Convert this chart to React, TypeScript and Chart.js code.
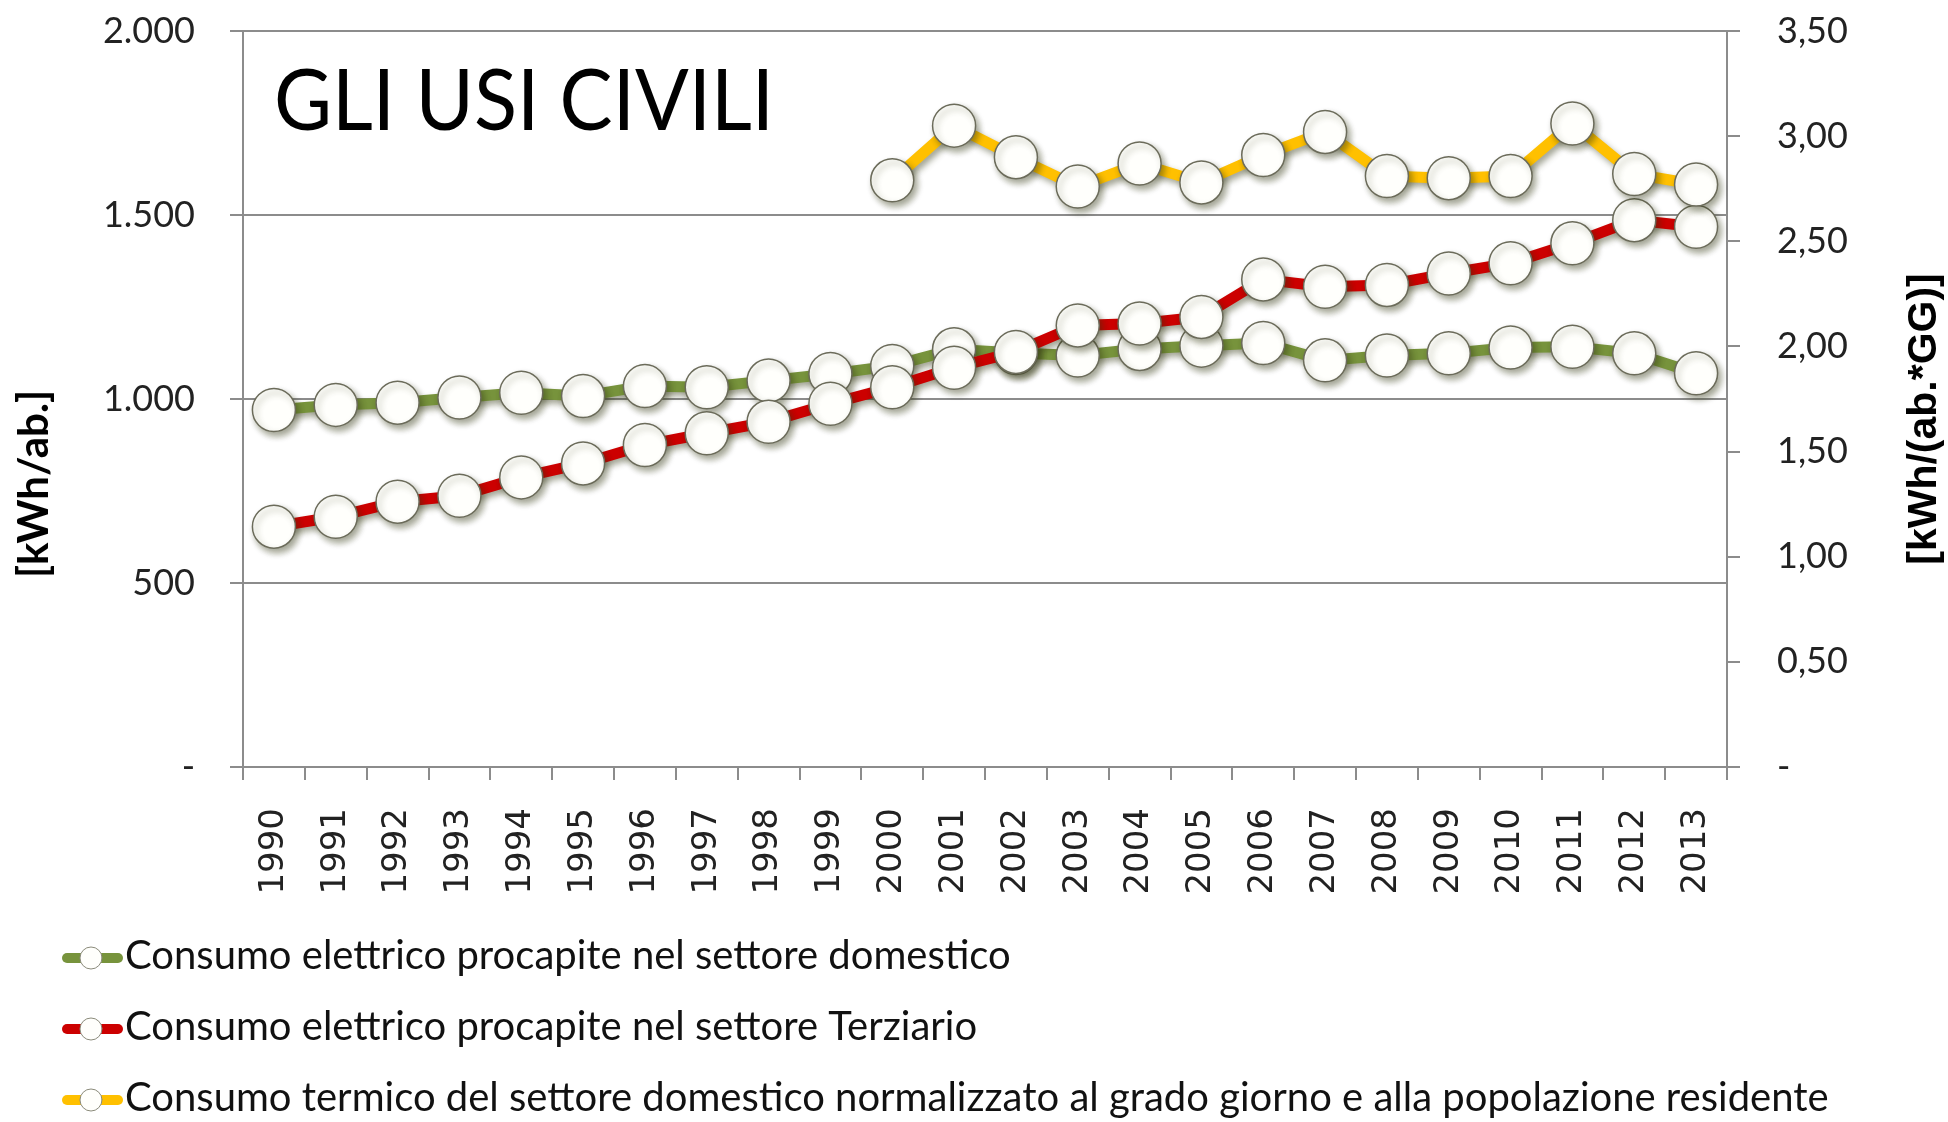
import React, { useEffect, useRef } from 'react';
import { Chart, registerables } from 'chart.js';

Chart.register(...registerables);

const years = ['1990', '1991', '1992', '1993', '1994', '1995', '1996', '1997', '1998', '1999', '2000', '2001', '2002', '2003', '2004', '2005', '2006', '2007', '2008', '2009', '2010', '2011', '2012', '2013'];

const domestico = [970, 984, 990, 1004, 1017, 1008, 1035, 1032, 1050, 1068, 1090, 1135, 1125, 1118, 1136, 1145, 1152, 1105, 1118, 1124, 1140, 1142, 1124, 1070];

const terziario = [653, 680, 721, 737, 787, 825, 875, 907, 938, 987, 1032, 1085, 1128, 1200, 1205, 1223, 1325, 1305, 1310, 1341, 1369, 1423, 1486, 1468];

const termico = [null, null, null, null, null, null, null, null, null, null, 2.79, 3.05, 2.90, 2.76, 2.87, 2.78, 2.91, 3.02, 2.81, 2.80, 2.81, 3.06, 2.82, 2.77];

const leftTickLabels = ['-', '500', '1.000', '1.500', '2.000'];
const rightTickLabels = ['-', '0,50', '1,00', '1,50', '2,00', '2,50', '3,00', '3,50'];

const seriesNames = [
  'Consumo elettrico procapite nel settore domestico',
  'Consumo elettrico procapite nel settore Terziario',
  'Consumo termico del settore domestico normalizzato al grado giorno e alla popolazione residente',
];
const seriesColors = ['#77933C', '#CC0000', '#FFC000'];

const chartTitle = 'GLI USI CIVILI';
const leftAxisTitle = '[kWh/ab.]';
const rightAxisTitle = '[kWh/(ab.*GG)]';

const GRID = '#8c8c8c';
const POINT_FILL = '#FFFFFC';
const POINT_BORDER = '#6b6b5a';

const shadowPlugin = {
  id: 'shadowPlugin',
  beforeDatasetDraw(chart: any) {
    const ctx = chart.ctx;
    ctx.save();
    ctx.shadowColor = 'rgba(50,55,20,0.45)';
    ctx.shadowBlur = 6;
    ctx.shadowOffsetX = 3;
    ctx.shadowOffsetY = 4;
  },
  afterDatasetDraw(chart: any) {
    chart.ctx.restore();
  },
};

const decorPlugin = {
  id: 'decorPlugin',
  afterDraw(chart: any) {
    const ctx = chart.ctx as CanvasRenderingContext2D;
    const area = chart.chartArea;

    // Title inside plot
    ctx.save();
    ctx.fillStyle = '#000';
    ctx.font = '86px Lato';
    ctx.textBaseline = 'alphabetic';
    ctx.textAlign = 'left';
    const tw = ctx.measureText(chartTitle).width;
    const sx = 500 / tw;
    ctx.translate(area.left + 31, 130);
    ctx.scale(sx, 1);
    ctx.fillText(chartTitle, 0, 0);
    ctx.restore();

    // Left axis title
    ctx.save();
    ctx.fillStyle = '#000';
    ctx.font = 'bold 42px Lato';
    ctx.textAlign = 'center';
    ctx.textBaseline = 'middle';
    ctx.translate(34, 484);
    ctx.rotate(-Math.PI / 2);
    ctx.fillText(leftAxisTitle, 0, 0);
    ctx.restore();

    // Right axis title
    ctx.save();
    ctx.fillStyle = '#000';
    ctx.font = 'bold 41px "Liberation Sans"';
    ctx.textAlign = 'center';
    ctx.textBaseline = 'middle';
    ctx.translate(1925, 419);
    ctx.rotate(-Math.PI / 2);
    ctx.fillText(rightAxisTitle, 0, 0);
    ctx.restore();

    // Legend
    const rowCenters = [958, 1029, 1100];
    seriesNames.forEach((name, i) => {
      const y = rowCenters[i];
      ctx.save();
      ctx.strokeStyle = seriesColors[i];
      ctx.lineWidth = 10;
      ctx.lineCap = 'round';
      ctx.beginPath();
      ctx.moveTo(67, y);
      ctx.lineTo(118, y);
      ctx.stroke();
      ctx.beginPath();
      ctx.arc(91, y, 11, 0, Math.PI * 2);
      ctx.fillStyle = POINT_FILL;
      ctx.fill();
      ctx.lineWidth = 1;
      ctx.strokeStyle = '#8a8a7a';
      ctx.stroke();
      ctx.fillStyle = '#111';
      ctx.font = '40px Lato';
      ctx.textAlign = 'left';
      ctx.textBaseline = 'alphabetic';
      ctx.fillText(name, 125, y + 11);
      ctx.restore();
    });
  },
};

export default function App() {
  const canvasRef = useRef<HTMLCanvasElement | null>(null);

  useEffect(() => {
    if (!canvasRef.current) return;
    const common = {
      borderWidth: 11,
      pointRadius: 21.5,
      pointHoverRadius: 21.5,
      pointBackgroundColor: POINT_FILL,
      pointBorderColor: POINT_BORDER,
      pointBorderWidth: 1.5,
      tension: 0,
      fill: false,
    };
    const chart = new Chart(canvasRef.current, {
      type: 'line',
      data: {
        labels: years,
        datasets: [
          { ...common, label: seriesNames[0], data: domestico, borderColor: seriesColors[0], yAxisID: 'y', order: 3 },
          { ...common, label: seriesNames[1], data: terziario, borderColor: seriesColors[1], yAxisID: 'y', order: 2 },
          { ...common, label: seriesNames[2], data: termico, borderColor: seriesColors[2], yAxisID: 'y1', order: 1 },
        ],
      },
      options: {
        responsive: false,
        animation: false,
        devicePixelRatio: 1,
        layout: { padding: { left: 0, right: 0, top: 31, bottom: 220 } },
        plugins: {
          legend: { display: false },
          tooltip: { enabled: false },
          title: { display: false },
        },
        scales: {
          x: {
            type: 'category',
            offset: true,
            grid: {
              offset: true,
              drawOnChartArea: false,
              drawTicks: true,
              tickLength: 13,
              color: GRID,
              lineWidth: 2,
            },
            border: { display: true, color: GRID, width: 2 },
            ticks: {
              autoSkip: false,
              minRotation: 90,
              maxRotation: 90,
              padding: 28,
              color: '#222',
              font: { family: 'DejaVu Sans', size: 34 },
            },
            afterFit(scale: any) {
              scale.height = 135;
            },
          },
          y: {
            position: 'left',
            min: 0,
            max: 2000,
            ticks: {
              stepSize: 500,
              padding: 35,
              color: '#222',
              font: { family: 'Lato', size: 36 },
              callback: (_v: any, i: number) => leftTickLabels[i],
            },
            grid: { color: GRID, lineWidth: 2, tickLength: 13, drawTicks: true },
            border: { display: true, color: GRID, width: 2 },
            afterFit(scale: any) {
              scale.width = 243;
              scale.paddingTop = 0;
              scale.paddingBottom = 0;
            },
          },
          y1: {
            position: 'right',
            min: 0,
            max: 3.5,
            ticks: {
              stepSize: 0.5,
              padding: 37,
              color: '#222',
              font: { family: 'Lato', size: 36 },
              callback: (_v: any, i: number) => rightTickLabels[i],
            },
            grid: { drawOnChartArea: false, color: GRID, lineWidth: 2, tickLength: 13, drawTicks: true },
            border: { display: true, color: GRID, width: 2 },
            afterFit(scale: any) {
              scale.width = 221;
              scale.paddingTop = 0;
              scale.paddingBottom = 0;
            },
          },
        },
      },
      plugins: [shadowPlugin, decorPlugin],
    } as any);
    return () => chart.destroy();
  }, []);

  return (
    <div style={{ position: 'fixed', left: 0, top: 0, width: 1948, height: 1122, background: '#fff' }}>
      <canvas ref={canvasRef} width={1948} height={1122} style={{ display: 'block', width: 1948, height: 1122 }} />
    </div>
  );
}
